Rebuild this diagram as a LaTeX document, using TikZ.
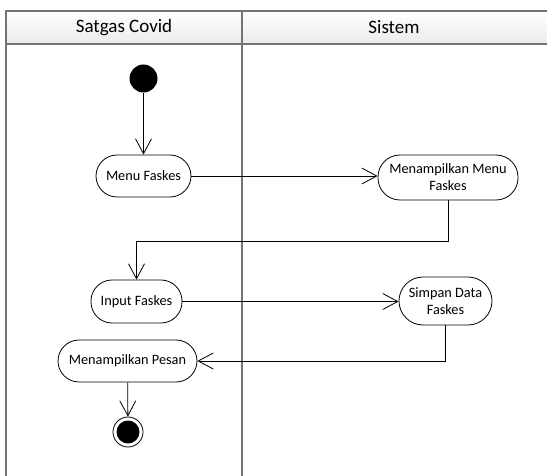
\documentclass[tikz,border=0pt]{standalone}
\usepackage{fontspec}
\setmainfont{Carlito}
\usetikzlibrary{arrows.meta}
\begin{document}
\begin{tikzpicture}[x=1pt,y=-1pt,
  lane/.style={draw=black!55,line width=1.8pt},
  head/.style={font=\fontsize{19}{22}\selectfont},
  act/.style={draw,line width=0.8pt,rounded corners=#1,align=center,inner sep=0pt,
    font=\fontsize{14.3}{17}\selectfont},
  flow/.style={draw,line width=0.8pt,-{Straight Barb[length=15pt,width=16pt,line width=0.8pt]}},
  startnode/.style={circle,fill=black,minimum size=28pt,inner sep=0pt},
  endnode/.style={circle,draw,line width=0.8pt,minimum size=30pt,inner sep=0pt,
    path picture={\fill (path picture bounding box.center) circle (11.5pt);}}]
\useasboundingbox (0,0) rectangle (547,476);
\clip (0,0) rectangle (547,476);

% swimlane frame with header row
\shade[top color=white,bottom color=black!8] (6,11) rectangle (560,44);
\draw[lane] (6,490) -- (6,11) -- (560,11);
\draw[lane] (6,44) -- (560,44);
\draw[lane] (242,11) -- (242,490);
\node[head] (laneA) at (124,27.5) {Satgas Covid};
\node[head] (laneB) at (394,27.5) {Sistem};

% activities
\node[startnode] (start) at (143.5,78.5) {};
\node[act=21pt,minimum width=95pt,minimum height=42pt] (menu) at (143.5,176) {Menu Faskes};
\node[act=22pt,minimum width=140pt,minimum height=45pt] (tampil) at (448,177.5) {Menampilkan Menu\\Faskes};
\node[act=21pt,minimum width=91pt,minimum height=43pt] (input) at (136.5,301.5) {Input Faskes};
\node[act=24pt,minimum width=93pt,minimum height=48pt] (simpan) at (445.5,301) {Simpan Data\\Faskes};
\node[act=21pt,minimum width=139pt,minimum height=42pt] (pesan) at (127.5,361) {Menampilkan Pesan};
\node[endnode] (end) at (128,432) {};

% control flow
\draw[flow] (start) -- (menu);
\draw[flow] (menu.east) -- (tampil.west |- menu.east);
\draw[flow] (tampil.south) -- ++(0,41) -| (input.north);
\draw[flow] (input.east) -- (simpan.west |- input.east);
\draw[flow] (simpan.south) |- (pesan.east);
\draw[flow] (pesan) -- (end);
\end{tikzpicture}
\end{document}
